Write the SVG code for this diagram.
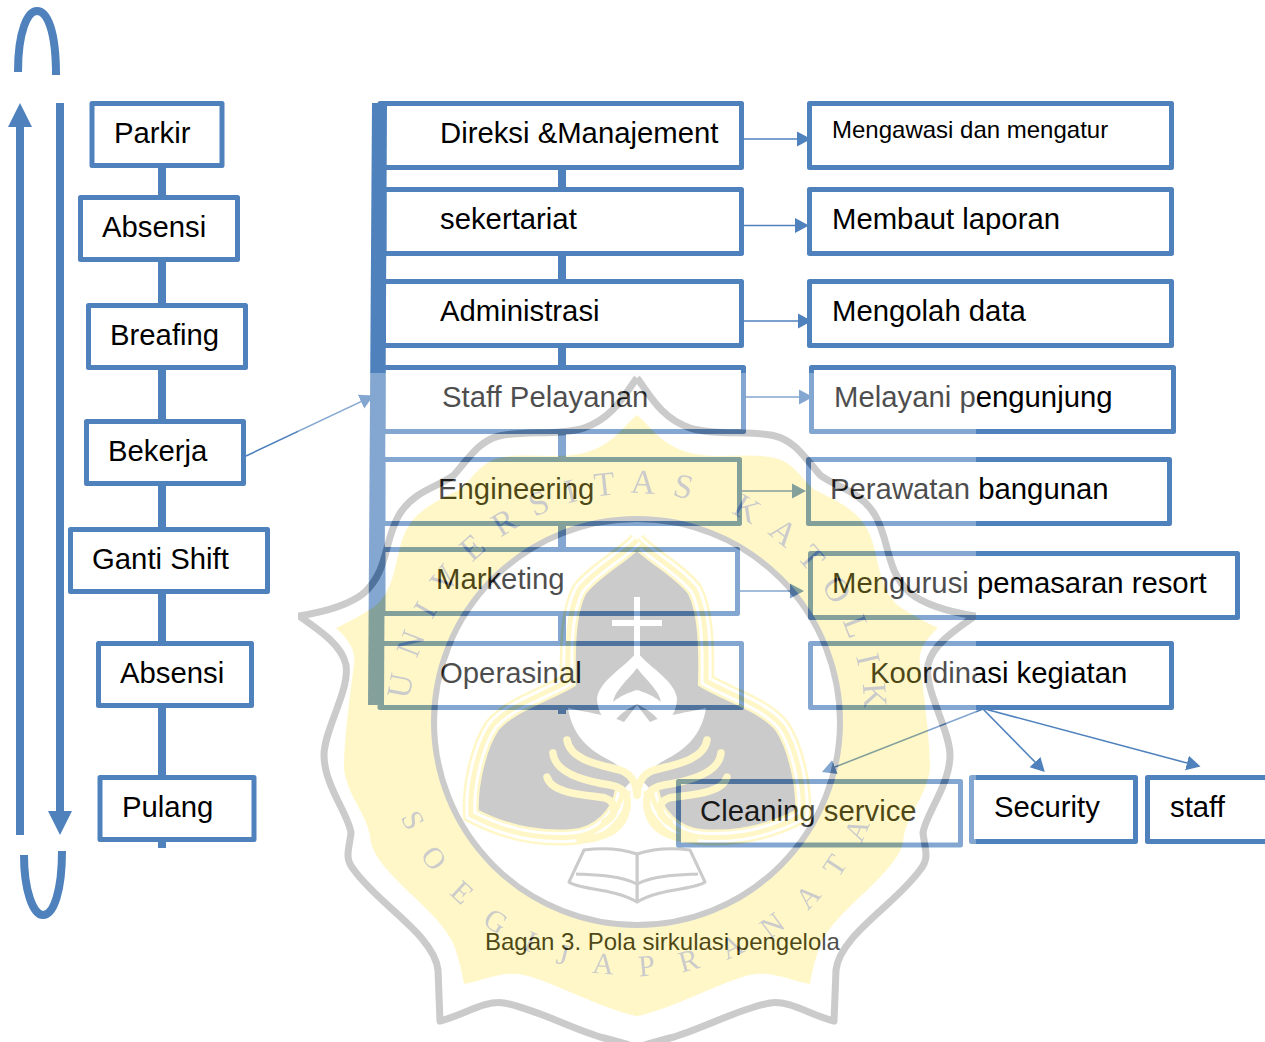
<svg xmlns="http://www.w3.org/2000/svg" xmlns:xlink="http://www.w3.org/1999/xlink" width="1265" height="1042" viewBox="0 0 1265 1042">
<style>
.box{fill:#fff;stroke:#4F81BD;stroke-width:5;stroke-linejoin:round}
.t{font-family:"Liberation Sans",Arial,sans-serif;font-size:29.3px;fill:#000}
.s{font-size:24px}
.c{font-size:24px}
.thick{stroke:#4F81BD;stroke-width:8;fill:none}
.thin{stroke:#4F81BD;stroke-width:1.6;fill:none;marker-end:url(#h)}
.wl{font-family:"Liberation Serif","Times New Roman",serif;font-size:34px;fill:#555}
.gy{fill:none;stroke:#555;stroke-linejoin:round}
.yf{fill:#FFE84D}
.yl{fill:none;stroke:#FFE84D;stroke-width:7.5;stroke-linecap:round}
</style>
<defs>
<filter id="soft" x="0" y="0" width="1" height="1"><feGaussianBlur stdDeviation="0.6"/></filter>
<marker id="h" markerUnits="userSpaceOnUse" markerWidth="16" markerHeight="16" refX="0" refY="8" orient="auto"><path d="M0,0.5 L14,8 L0,15.5 Z" fill="#4F81BD"/></marker>
<marker id="H" markerUnits="userSpaceOnUse" markerWidth="26" markerHeight="26" refX="0" refY="13" orient="auto"><path d="M0,1 L24,13 L0,25 Z" fill="#4F81BD"/></marker>
<path id="toparc" d="M410,700 A228,228 0 1 1 851,800"/>
<path id="botarc" d="M401,817 A255,255 0 0 0 891,744"/>
<g id="halfBack">
<path class="yf" d="M637,415 C650,425 660,445 690,453 C720,460 750,452 775,458 C795,463 800,478 815,490 C835,500 860,510 870,535 C880,560 878,590 900,607 C912,615 925,622 938,628 C925,640 918,650 920,665 C924,695 930,740 930,770 C925,800 905,815 903,843 C895,875 835,910 820,945 C815,960 812,972 810,984 C790,980 770,970 750,975 C720,982 670,1010 637,1016 Z"/>
<path class="gy" stroke-width="7" d="M637,378 C648,392 660,418 690,428 C715,436 750,430 775,436 C795,441 805,458 820,475 C835,487 860,490 875,515 C890,540 885,570 910,593 C925,605 950,612 975,616 C955,630 932,645 928,665 C924,690 950,730 950,755 C950,785 925,815 923,833 C925,850 930,858 920,870 C895,905 840,935 836,970 L834,1021 C810,1015 790,1000 770,1003 C740,1008 700,1030 670,1038 C655,1042 645,1044 637,1048"/>
</g>
<g id="halfTre">
<path fill="#555" d="M637,540 C650,555 680,570 695,590 C705,610 707,640 706,681 C730,695 765,705 782,726 C795,745 805,785 803,815 C775,830 740,840 701,837 C675,835 655,815 651,790 L637,775 L637,540 Z"/>
<path fill="none" stroke="#FFE84D" stroke-width="16" d="M637,540 C650,555 680,570 695,590 C705,610 707,640 706,681 C730,695 765,705 782,726 C795,745 805,785 803,815 C775,830 740,840 701,837 C675,835 655,815 651,790"/>
<path fill="none" stroke="#fff" stroke-width="11" d="M637,540 C650,555 680,570 695,590 C705,610 707,640 706,681 C730,695 765,705 782,726 C795,745 805,785 803,815 C775,830 740,840 701,837 C675,835 655,815 651,790"/>
<path fill="none" stroke="#FFE84D" stroke-width="5" d="M637,540 C650,555 680,570 695,590 C705,610 707,640 706,681 C730,695 765,705 782,726 C795,745 805,785 803,815 C775,830 740,840 701,837 C675,835 655,815 651,790"/>
</g>
<g id="halfFront">
<path fill="#fff" d="M637,705 L650,722 C665,715 690,712 706,708 C702,735 685,750 665,760 C650,768 640,780 637,790 Z"/>
<path class="yl" d="M707,740 C704,760 674,765 654,770 C639,775 637,790 637,795"/>
<path class="yl" d="M721,753 C719,775 684,782 664,785 C646,788 644,800 649,815 C654,830 669,838 694,840"/>
<path class="yl" d="M727,777 C722,795 684,795 669,798 C657,802 657,815 669,822"/>
<path fill="#fff" d="M637,652 C650,668 674,680 677,698 C677,712 669,722 662,725 C654,712 644,708 637,704 Z"/>
<path fill="#555" d="M637,668 C646,680 659,690 661,702 C654,696 644,692 637,690 Z"/>
<path fill="#fff" stroke="#555" stroke-width="3" stroke-linejoin="round" d="M637,854 C655,848 675,848 690,850 L705,882 C695,890 660,888 637,902 Z"/>
<path fill="none" stroke="#555" stroke-width="3" d="M637,884 C655,875 680,875 698,874"/>
</g>
</defs>

<g id="connectors">
<line class="thick" x1="20" y1="835" x2="20" y2="127" marker-end="url(#H)"/>
<line class="thick" x1="60" y1="103" x2="60" y2="811" marker-end="url(#H)"/>
<path class="thick" d="M18,72 C18,30 28,11 37,11 C47,11 56,30 56,75"/>
<path class="thick" d="M24,855 C24,890 33,915 43,915 C54,915 62,890 62,851"/>
<line class="thick" x1="162" y1="167" x2="162" y2="848"/>
<line class="thick" x1="562" y1="169" x2="562" y2="714"/>
<line class="thin" x1="246" y1="456" x2="361" y2="401.6"/>
<line class="thin" x1="744" y1="139" x2="797" y2="139"/>
<line class="thin" x1="744" y1="225.500" x2="795" y2="225.500"/>
<line class="thin" x1="744" y1="321" x2="798" y2="321"/>
<line x1="798" y1="321" x2="814" y2="321" stroke="#4F81BD" stroke-width="1.600"/>
<line class="thin" x1="746" y1="397" x2="799" y2="397"/>
<line class="thin" x1="736" y1="491" x2="792" y2="491"/>
<line class="thin" x1="734" y1="591" x2="790" y2="591"/>
<line class="thin" x1="983" y1="709" x2="835" y2="767"/>
<line class="thin" x1="983" y1="709" x2="1035" y2="762"/>
<line class="thin" x1="985" y1="709" x2="1187" y2="763"/>
</g>

<g id="n-parkir"><rect class="box" x="92" y="103.500" width="130" height="62"/><text class="t" x="114" y="143">Parkir</text></g>
<g id="n-absensi1"><rect class="box" x="80.500" y="197.500" width="157" height="62"/><text class="t" x="102" y="237">Absensi</text></g>
<g id="n-breafing"><rect class="box" x="88.500" y="305.500" width="157" height="62"/><text class="t" x="110" y="345">Breafing</text></g>
<g id="n-bekerja"><rect class="box" x="86.500" y="421.500" width="157" height="62"/><text class="t" x="108" y="461">Bekerja</text></g>
<g id="n-ganti"><rect class="box" x="70.500" y="529.500" width="197" height="62"/><text class="t" x="92" y="569">Ganti Shift</text></g>
<g id="n-absensi2"><rect class="box" x="98.500" y="643.500" width="153" height="62"/><text class="t" x="120" y="683">Absensi</text></g>
<g id="n-pulang"><rect class="box" x="100" y="777.500" width="154" height="62"/><text class="t" x="122" y="817">Pulang</text></g>

<g id="n-direksi"><rect class="box" x="380" y="103.500" width="361.500" height="64"/><text class="t" x="440" y="143">Direksi &amp;Manajement</text></g>
<g id="n-sekertariat"><rect class="box" x="384" y="189.500" width="357.500" height="64"/><text class="t" x="440" y="229">sekertariat</text></g>
<g id="n-administrasi"><rect class="box" x="383.500" y="281.500" width="358" height="64"/><text class="t" x="440" y="321">Administrasi</text></g>
<g id="n-staff"><rect class="box" x="383" y="367.500" width="360.500" height="64"/><text class="t" x="442" y="407">Staff Pelayanan</text></g>
<g id="n-engineering"><rect class="box" x="383" y="459.500" width="356.500" height="64"/><text class="t" x="438" y="499">Engineering</text></g>
<g id="n-marketing"><rect class="box" x="383" y="549.500" width="354.500" height="64"/><text class="t" x="436" y="589">Marketing</text></g>
<g id="n-operasinal"><rect class="box" x="380" y="643.500" width="361.500" height="64"/><text class="t" x="440" y="683">Operasinal</text></g>
<path id="n-bar" d="M372,103 L387,103 L384,705 L368,705 Z" fill="#4F81BD"/>

<g id="n-mengawasi"><rect class="box" x="809.500" y="103.500" width="362" height="64"/><text class="t s" x="832" y="138">Mengawasi dan mengatur</text></g>
<g id="n-membaut"><rect class="box" x="809.500" y="189.500" width="362" height="64"/><text class="t" x="832" y="229">Membaut laporan</text></g>
<g id="n-mengolah"><rect class="box" x="809.500" y="281.500" width="362" height="64"/><text class="t" x="832" y="321">Mengolah data</text></g>
<g id="n-melayani"><rect class="box" x="811.500" y="367.500" width="362" height="64"/><text class="t" x="834" y="407">Melayani pengunjung</text></g>
<g id="n-perawatan"><rect class="box" x="808.500" y="459.500" width="361" height="64"/><text class="t" x="830" y="499">Perawatan bangunan</text></g>
<g id="n-mengurusi"><rect class="box" x="810.500" y="553.500" width="427" height="64"/><text class="t" x="832" y="593">Mengurusi pemasaran resort</text></g>
<g id="n-koordinasi"><rect class="box" x="810.500" y="643.500" width="361" height="64"/><text class="t" x="870" y="683">Koordinasi kegiatan</text></g>
<g id="n-cleaning"><rect class="box" x="678.500" y="781.500" width="282" height="63.500"/><text class="t" x="700" y="821">Cleaning service</text></g>
<g id="n-security"><rect class="box" x="971.500" y="777.500" width="164" height="64"/><text class="t" x="994" y="817">Security</text></g>
<g id="n-staffbox"><rect class="box" x="1147.500" y="777.500" width="125" height="64"/><text class="t" x="1170" y="817">staff</text></g>
<text class="t c" x="485" y="950">Bagan 3. Pola sirkulasi pengelola</text>

<g id="watermark" opacity="0.3" filter="url(#soft)">
<rect x="298" y="373" width="678" height="669" fill="#fff"/>
<use xlink:href="#halfBack"/>
<use xlink:href="#halfBack" transform="translate(1274,0) scale(-1,1)"/>
<circle cx="637" cy="722" r="203" fill="#fff" stroke="#555" stroke-width="6"/>
<use xlink:href="#halfTre"/>
<use xlink:href="#halfTre" transform="translate(1274,0) scale(-1,1)"/>
<use xlink:href="#halfFront"/>
<use xlink:href="#halfFront" transform="translate(1274,0) scale(-1,1)"/>
<path d="M637,597 V655 M612,623 H662" stroke="#fff" stroke-width="6" fill="none"/>
<text class="wl" letter-spacing="17"><textPath xlink:href="#toparc">UNIVERSITAS KATOLIK</textPath></text>
<text class="wl" style="font-size:30px" letter-spacing="26"><textPath xlink:href="#botarc">SOEGIJAPRANATA</textPath></text>
</g>
</svg>
